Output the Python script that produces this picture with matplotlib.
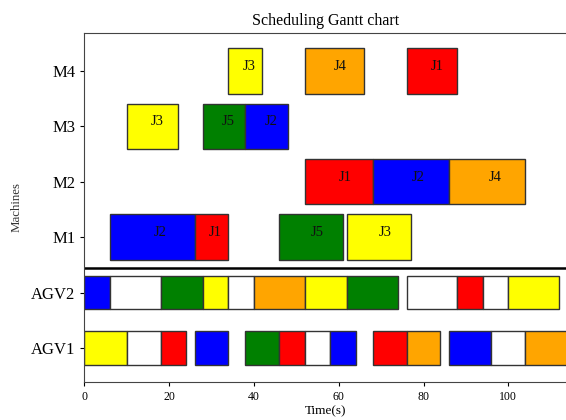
import matplotlib
matplotlib.use("Agg")
from matplotlib import pyplot as plt

plt.rcParams['font.family'] = ['Liberation Serif', 'DejaVu Serif']

# Rows from bottom to top
rows = ["AGV1", "AGV2", "M1", "M2", "M3", "M4"]

# (start, end, job); "" = empty AGV trip
m4 = [(34, 42, "J3"), (52, 66, "J4"), (76, 88, "J1")]
m3 = [(10, 22, "J3"), (28, 38, "J5"), (38, 48, "J2")]
m2 = [(52, 68, "J1"), (68, 86, "J2"), (86, 104, "J4")]
m1 = [(6, 26, "J2"), (26, 34, "J1"), (46, 61, "J5"), (62, 77, "J3")]
agv2 = [(0, 6, "J2"), (6, 18, ""), (18, 28, "J5"), (28, 34, "J3"), (34, 40, ""),
        (40, 52, "J4"), (52, 62, "J3"), (62, 74, "J5"), (76, 88, ""), (88, 94, "J1"),
        (94, 100, ""), (100, 112, "J3")]
agv1 = [(0, 10, "J3"), (10, 18, ""), (18, 24, "J1"), (26, 34, "J2"), (38, 46, "J5"),
        (46, 52, "J1"), (52, 58, ""), (58, 64, "J2"), (68, 76, "J1"), (76, 84, "J4"),
        (86, 96, "J2"), (96, 104, ""), (104, 118, "J4")]

job_colors = {"J1": "#ff0000", "J2": "#0000ff", "J3": "#ffff00",
              "J4": "#ffa500", "J5": "#008000", "": "#ffffff"}

data = {"M4": m4, "M3": m3, "M2": m2, "M1": m1, "AGV2": agv2, "AGV1": agv1}


def main():
    fig = plt.figure(figsize=(5.66, 4.2), dpi=100)
    ax = fig.add_axes([0.149, 0.091, 0.851, 0.83])

    for i, name in enumerate(rows):
        is_agv = name.startswith("AGV")
        h = 0.6 if is_agv else 0.82
        for start, end, job in data[name]:
            ax.barh(i, end - start, left=start, height=h, color=job_colors[job],
                    edgecolor="#333333", linewidth=1.0)
            if not is_agv:
                ax.text(start + 0.6 * (end - start), i + 0.08, job,
                        ha="center", va="center", fontsize=10.5, color="#111111")

    ax.axhline(1.45, color="black", linewidth=1.8)

    ax.set_xlim(0, 113.6)
    ax.set_ylim(-0.61, 5.68)
    ax.set_yticks(range(len(rows)))
    ax.set_yticklabels(rows, fontsize=12)
    ax.set_xticks([0, 20, 40, 60, 80, 100])
    ax.tick_params(axis="x", labelsize=8.5, length=3)
    ax.tick_params(axis="y", length=3)
    ax.spines["right"].set_visible(False)
    for s in ax.spines.values():
        s.set_color("#444444")
    ax.set_xlabel("Time(s)", fontsize=9.5, labelpad=2)
    ax.set_ylabel("Machines", fontsize=9.3, color="#333333")
    ax.yaxis.set_label_coords(-0.128, 0.5)
    ax.set_title("Scheduling Gantt chart", fontsize=11.5, pad=6)

    fig.savefig("out.png", dpi=100)


if __name__ == "__main__":
    main()
